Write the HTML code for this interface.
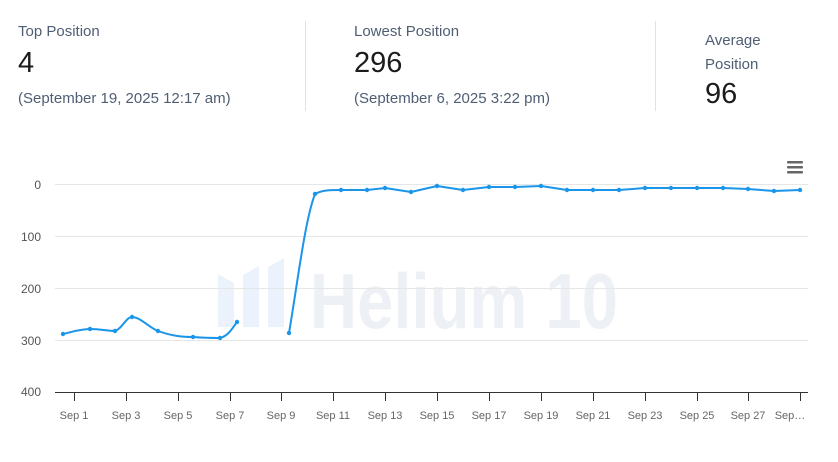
<!DOCTYPE html>
<html><head><meta charset="utf-8"><style>
body{margin:0;width:838px;height:462px;background:#fff;position:relative;font-family:"Liberation Sans",sans-serif;overflow:hidden}
.t{position:absolute;white-space:nowrap}
.l{font-size:15px;color:#4f5e73}
.v{font-size:29px;color:#1c1c1c}
.s{font-size:15px;color:#4f5e73}
.d{position:absolute;width:1px;background:#e2e2e2}
</style></head><body>
<div class="t l" style="left:18px;top:23px">Top Position</div>
<div class="t v" style="left:18px;top:47px">4</div>
<div class="t s" style="left:18px;top:90px">(September 19, 2025 12:17 am)</div>
<div class="d" style="left:305px;top:21px;height:90px"></div>
<div class="t l" style="left:354px;top:23px">Lowest Position</div>
<div class="t v" style="left:354px;top:47px">296</div>
<div class="t s" style="left:354px;top:90px">(September 6, 2025 3:22 pm)</div>
<div class="d" style="left:655px;top:21px;height:90px"></div>
<div class="t l" style="left:705px;top:32px">Average</div>
<div class="t l" style="left:705px;top:56px">Position</div>
<div class="t v" style="left:705px;top:78px">96</div>
<svg width="838" height="462" style="position:absolute;left:0;top:0" font-family="Liberation Sans, sans-serif">
<g fill="#ebf2fb">
<polygon points="218,274 234,283 234,327 218,327"/>
<polygon points="243,275 259,266 259,327 243,327"/>
<polygon points="268,267 284,258 284,327 268,327"/>
</g>
<text x="310" y="328" font-size="78" font-weight="bold" fill="#edf0f5" textLength="308" lengthAdjust="spacingAndGlyphs">Helium 10</text>
<g stroke="#e6e6e6" stroke-width="1">
<line x1="55" y1="184.5" x2="808" y2="184.5"/><line x1="55" y1="236.5" x2="808" y2="236.5"/>
<line x1="55" y1="288.5" x2="808" y2="288.5"/><line x1="55" y1="340.5" x2="808" y2="340.5"/>
</g>
<line x1="55" y1="392.5" x2="808" y2="392.5" stroke="#333" stroke-width="1"/>
<g stroke="#333">
<line x1="74.5" y1="392" x2="74.5" y2="401"/><line x1="126.5" y1="392" x2="126.5" y2="401"/><line x1="178.5" y1="392" x2="178.5" y2="401"/><line x1="230.5" y1="392" x2="230.5" y2="401"/><line x1="281.5" y1="392" x2="281.5" y2="401"/><line x1="333.5" y1="392" x2="333.5" y2="401"/><line x1="385.5" y1="392" x2="385.5" y2="401"/><line x1="437.5" y1="392" x2="437.5" y2="401"/><line x1="489.5" y1="392" x2="489.5" y2="401"/><line x1="541.5" y1="392" x2="541.5" y2="401"/><line x1="593.5" y1="392" x2="593.5" y2="401"/><line x1="645.5" y1="392" x2="645.5" y2="401"/><line x1="697.5" y1="392" x2="697.5" y2="401"/><line x1="748.5" y1="392" x2="748.5" y2="401"/><line x1="800.5" y1="392" x2="800.5" y2="401"/>
</g>
<g font-size="12" fill="#555" text-anchor="end">
<text x="41" y="189">0</text><text x="41" y="241">100</text><text x="41" y="293">200</text><text x="41" y="345">300</text><text x="41" y="396">400</text>
</g>
<g font-size="11" fill="#666" text-anchor="middle">
<text x="74" y="419">Sep 1</text><text x="126" y="419">Sep 3</text><text x="178" y="419">Sep 5</text><text x="230" y="419">Sep 7</text><text x="281" y="419">Sep 9</text><text x="333" y="419">Sep 11</text><text x="385" y="419">Sep 13</text><text x="437" y="419">Sep 15</text><text x="489" y="419">Sep 17</text><text x="541" y="419">Sep 19</text><text x="593" y="419">Sep 21</text><text x="645" y="419">Sep 23</text><text x="697" y="419">Sep 25</text><text x="748" y="419">Sep 27</text><text x="790" y="419">Sep…</text>
</g>
<g fill="#666"><rect x="787" y="161" width="16" height="2.5" rx="1"/><rect x="787" y="166" width="16" height="2.5" rx="1"/><rect x="787" y="171" width="16" height="2.5" rx="1"/></g>
<g fill="none" stroke="#1a95ea" stroke-width="2" stroke-linejoin="round">
<path d="M63,334 C72,332 80,329 90,329 C100,329 108,331 115,331 C122,329 126,317 132,317 C140,317 150,328 158,331 C172,336 182,337 193,337 C205,338 212,338 220,338 C228,336 232,329 237,322"/>
<path d="M289,333 C298,280 305,220 315,194 C322,190 330,190 341,190 L367,190 L385,188 L411,192 L437,186 L463,190 L489,187 L515,187 L541,186 L567,190 L593,190 L619,190 L645,188 L671,188 L697,188 L723,188 L748,189 L774,191 L800,190"/>
</g>
<g fill="#1a95ea">
<circle cx="63" cy="334" r="2.2"/><circle cx="90" cy="329" r="2.2"/><circle cx="115" cy="331" r="2.2"/><circle cx="132" cy="317" r="2.2"/><circle cx="158" cy="331" r="2.2"/><circle cx="193" cy="337" r="2.2"/><circle cx="220" cy="338" r="2.2"/><circle cx="237" cy="322" r="2.2"/><circle cx="289" cy="333" r="2.2"/><circle cx="315" cy="194" r="2.2"/><circle cx="341" cy="190" r="2.2"/><circle cx="367" cy="190" r="2.2"/><circle cx="385" cy="188" r="2.2"/><circle cx="411" cy="192" r="2.2"/><circle cx="437" cy="186" r="2.2"/><circle cx="463" cy="190" r="2.2"/><circle cx="489" cy="187" r="2.2"/><circle cx="515" cy="187" r="2.2"/><circle cx="541" cy="186" r="2.2"/><circle cx="567" cy="190" r="2.2"/><circle cx="593" cy="190" r="2.2"/><circle cx="619" cy="190" r="2.2"/><circle cx="645" cy="188" r="2.2"/><circle cx="671" cy="188" r="2.2"/><circle cx="697" cy="188" r="2.2"/><circle cx="723" cy="188" r="2.2"/><circle cx="748" cy="189" r="2.2"/><circle cx="774" cy="191" r="2.2"/><circle cx="800" cy="190" r="2.2"/>
</g>
</svg>
</body></html>
